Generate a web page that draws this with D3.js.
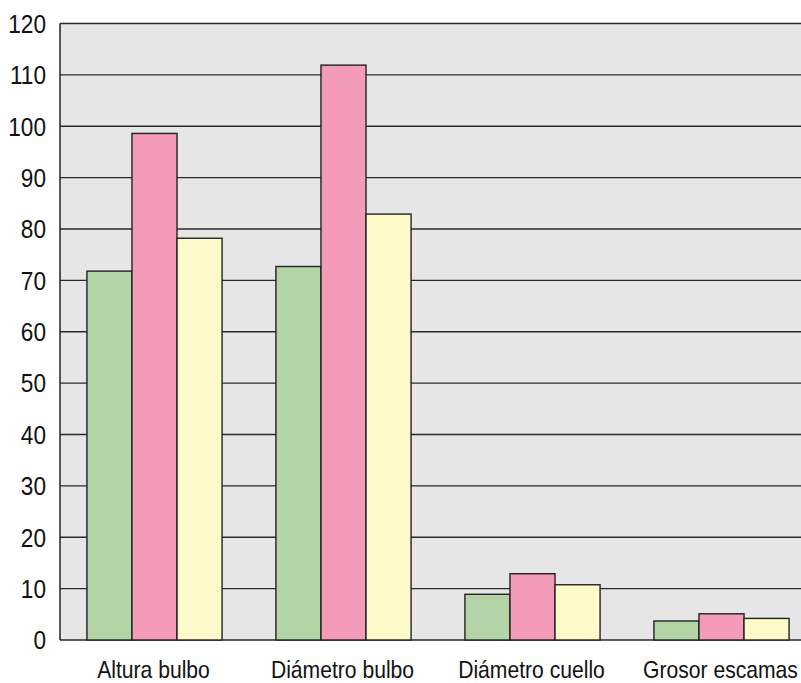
<!DOCTYPE html>
<html><head><meta charset="utf-8">
<script src="https://cdn.jsdelivr.net/npm/d3@7"></script>
<style>body{margin:0;background:#fff}svg{display:block}</style>
</head><body>
<svg id="c" width="801" height="683"></svg>
<script>
const categories = ["Altura bulbo", "Diámetro bulbo", "Diámetro cuello", "Grosor escamas"];
const seriesNames = ["s1", "s2", "s3"];
const s1 = [71.8, 72.7, 8.9, 3.7];
const s2 = [98.6, 111.9, 12.9, 5.1];
const s3 = [78.2, 82.9, 10.75, 4.2];
const yTicks = [0,10,20,30,40,50,60,70,80,90,100,110,120];
const colors = ["#b3d4a7", "#f39bb9", "#fefac9"];

const series = [s1, s2, s3];
const svg = d3.select("#c");
const L = 60, R = 816, T = 23.5, B = 640;
const font = "'Liberation Sans',Arial,sans-serif";

const x = d3.scaleBand().domain(categories).range([L, R]).paddingInner(0.285).paddingOuter(0.1425);
const xs = d3.scaleBand().domain(seriesNames).range([0, x.bandwidth()]);
const y = d3.scaleLinear().domain([0, 120]).range([B, T]);

svg.append("rect").attr("x", L).attr("y", T).attr("width", R - L).attr("height", B - T).attr("fill", "#e6e6e6");

svg.append("g").selectAll("line").data(yTicks).join("line")
  .attr("x1", L).attr("x2", R)
  .attr("y1", d => y(d)).attr("y2", d => y(d))
  .attr("stroke", "#2a2a2a").attr("stroke-width", 1.4);

const g = svg.append("g").selectAll("g").data(categories).join("g")
  .attr("transform", d => `translate(${x(d)},0)`);
g.selectAll("rect").data((d, i) => series.map((s, j) => ({k: seriesNames[j], v: s[i], c: colors[j]})))
  .join("rect")
  .attr("x", d => xs(d.k)).attr("width", xs.bandwidth())
  .attr("y", d => y(d.v)).attr("height", d => y(0) - y(d.v))
  .attr("fill", d => d.c).attr("stroke", "#222").attr("stroke-width", 1.4);

svg.append("line").attr("x1", L).attr("x2", L).attr("y1", T).attr("y2", B).attr("stroke", "#222").attr("stroke-width", 1.5);

// y tick labels
svg.append("g").selectAll("g").data(yTicks).join("g")
  .attr("transform", d => `translate(46,${y(d)}) scale(0.87,1)`)
  .append("text").attr("text-anchor", "end").attr("dy", "0.36em")
  .attr("font-family", font).attr("font-size", 26).attr("fill", "#111")
  .text(d => d);

// x category labels
svg.append("g").selectAll("g").data(categories).join("g")
  .attr("transform", d => `translate(${x(d) + x.bandwidth() / 2 - 1},678) scale(0.88,1)`)
  .append("text").attr("text-anchor", "middle")
  .attr("font-family", font).attr("font-size", 24).attr("fill", "#111")
  .text(d => d);
</script>
</body></html>
